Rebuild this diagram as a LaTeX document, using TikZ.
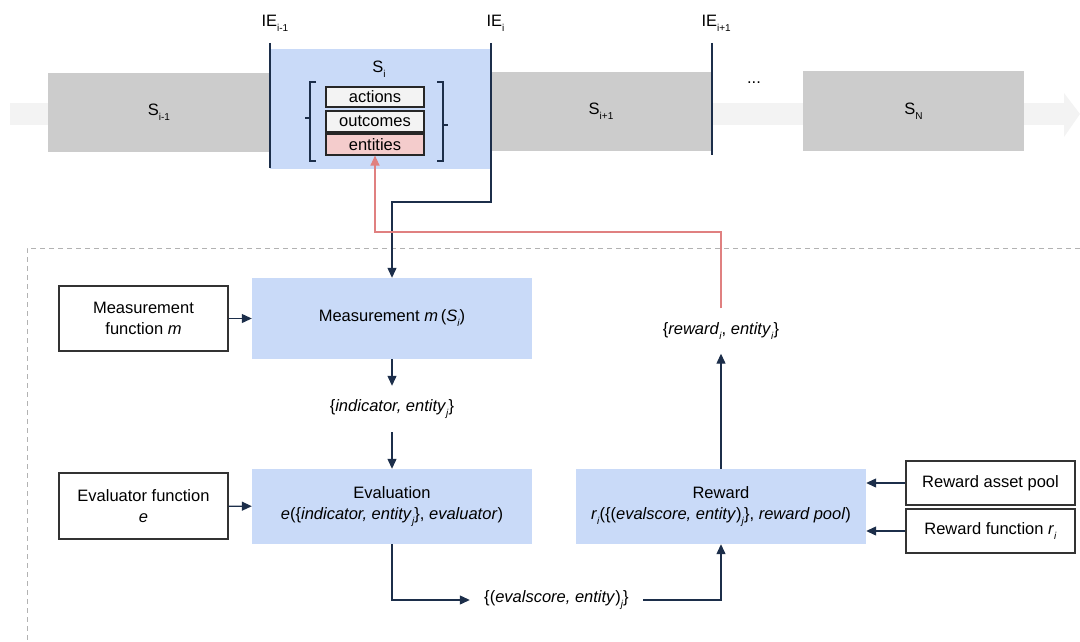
\documentclass[tikz,border=0pt]{standalone}
\usepackage{fontspec}
\setmainfont{Liberation Sans}
\usetikzlibrary{arrows.meta}

\definecolor{navy}{HTML}{1C2E4A}
\definecolor{procblue}{HTML}{C9DAF8}
\definecolor{stategray}{HTML}{CCCCCC}
\definecolor{bandgray}{HTML}{F3F3F3}
\definecolor{entpink}{HTML}{F4CCCC}
\definecolor{alertred}{HTML}{E08080}

% low set subscript, as in the drawing tool
\newcommand{\lowsub}[1]{\raisebox{-5pt}{\fontsize{10}{10}\selectfont #1}}

\begin{document}
\begin{tikzpicture}[x=1pt, y=-1pt, font=\fontsize{16.5}{21}\selectfont,
    gbox/.style={fill=stategray, minimum width=222pt, minimum height=79pt, inner sep=0pt},
    pbox/.style={fill=procblue, align=center, inner sep=0pt},
    fbox/.style={draw=black!80, line width=1.2pt, fill=white, align=center, minimum width=169pt, inner sep=0pt},
    ibox/.style={draw=black!85, line width=1.1pt, minimum width=98pt, minimum height=20pt, inner sep=0pt},
    flow/.style={draw=navy, line width=1.2pt, -{Triangle[length=10pt,width=9pt]}},
    back/.style={draw=alertred, line width=1.2pt, -{Triangle[length=10pt,width=9pt]}},
    ieline/.style={draw=navy, line width=1.2pt},
    lbl/.style={inner sep=0pt, minimum height=45pt}]
    \useasboundingbox (0,0) rectangle (1080,642);

    % Timeline band
    \fill[bandgray] (10,103) rectangle (1064,125);
    \fill[bandgray] (1064,93) -- (1080,114) -- (1064,137) -- cycle;

    % States
    \node[gbox] (sprev) at (159,112.5) {S\lowsub{i-1}};
    \node[gbox] (snext) at (601,111.5) {S\lowsub{i+1}};
    \node[gbox, minimum width=221pt] (slast) at (913.5,111) {S\lowsub{N}};
    \node[anchor=base] (dots) at (754,84) {...};
    \node[fill=procblue, minimum width=221pt, minimum height=120pt, inner sep=0pt] (scur) at (380.5,109) {};
    \node[anchor=base] (scurlbl) at (379,73) {S\lowsub{i}};

    % Contents of the current state
    \node[ibox, fill=bandgray] (act) at (375,97) {actions};
    \node[ibox, fill=bandgray, minimum height=21pt] (out) at (375,121.5) {outcomes};
    \node[ibox, fill=entpink, minimum height=21pt] (ent) at (375,144.5) {entities};
    \draw[navy, line width=1.1pt] (316,82) -- (310,82) -- (310,161) -- (316,161);
    \draw[navy, line width=1.1pt] (310,118) -- (305,118);
    \draw[navy, line width=1.1pt] (437,82) -- (443,82) -- (443,161) -- (437,161);
    \draw[navy, line width=1.1pt] (443,125) -- (448,125);

    % Interaction events
    \foreach \x/\yend in {270/168, 712/155} {
        \draw[ieline] (\x,43) -- (\x,\yend);
    }
    \node[anchor=base west] (ieprev) at (258,27) {IE\lowsub{i-1}};
    \node[anchor=base west] (iecur) at (483,27) {IE\lowsub{i}};
    \node[anchor=base west] (ienext) at (698,27) {IE\lowsub{i+1}};

    % Processing frame
    \draw[black!30, dashed, dash pattern=on 5pt off 4pt, line width=1pt] (1080,248) -- (27,248) -- (27,642);

    % Processing steps
    \node[pbox, minimum width=280pt, minimum height=81pt] (meas) at (392,318.5) {Measurement \textit{m}\,(\textit{S}\lowsub{\textit{i}})};
    \node[pbox, minimum width=280pt, minimum height=75pt] (eval) at (392,506.5) {Evaluation\\\textit{e}(\{\textit{indicator, entity}\lowsub{\textit{j}}\}, \textit{evaluator})};
    \node[pbox, minimum width=290pt, minimum height=75pt] (rwd) at (721,506.5) {Reward\\\textit{r}\lowsub{\textit{i}}(\{(\textit{evalscore, entity})\lowsub{\textit{j}}\}, \textit{reward pool})};

    % Inputs
    \node[fbox, minimum height=65pt] (mf) at (143.5,318.5) {Measurement\\function \textit{m}};
    \node[fbox, minimum height=66pt] (ef) at (143.5,506) {Evaluator function\\\textit{e}};
    \node[fbox, minimum height=44pt] (rap) at (990.5,483) {Reward asset pool};
    \node[fbox, minimum height=44pt] (rf) at (990.5,531) {Reward function \textit{r}\lowsub{\textit{i}}};

    % Intermediate results
    \node[lbl, minimum height=46pt] (ind) at (392,409) {\{\textit{indicator, entity}\lowsub{\textit{j}}\}};
    \node[lbl, minimum width=173pt, minimum height=20pt] (evs) at (556.5,600) {\{(\textit{evalscore, entity})\lowsub{\textit{j}}\}};
    \node[lbl] (rew) at (721,331) {\{\textit{reward}\lowsub{\textit{i}}, \textit{entity}\lowsub{\textit{i}}\}};

    % Connectors
    \coordinate (ietop) at (491,43);
    \coordinate (iebend) at (491,202);
    \draw[flow] (ietop) -- (iebend) -| (meas.north);
    \draw[flow] (mf) -- (meas);
    \draw[flow] (meas.south) -- (ind.north);
    \draw[flow] (ind.south) -- (eval.north);
    \draw[flow] (ef) -- (eval);
    \draw[flow] (eval.south) |- (evs.west);
    \draw[flow] (evs.east) -| (rwd.south);
    \draw[flow] (rap.west) -- (rap.west -| rwd.east);
    \draw[flow] (rf.west) -- (rf.west -| rwd.east);
    \draw[flow] (rwd.north) -- (rew.south);

    % Feedback to the state
    \coordinate (redbend) at (375,232);
    \draw[back] (rew.north) |- (redbend) -- (ent.south);
\end{tikzpicture}
\end{document}
